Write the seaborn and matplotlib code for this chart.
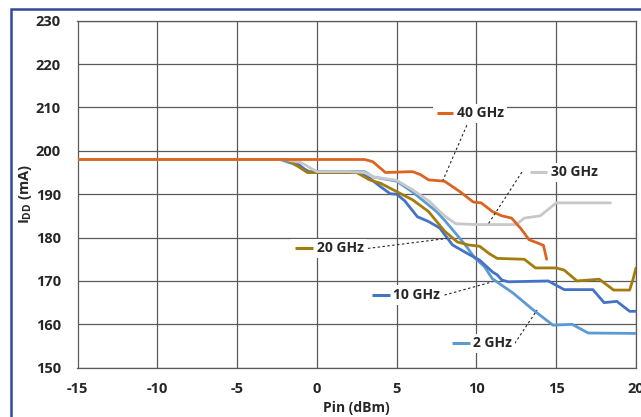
import matplotlib
matplotlib.use("Agg")
import matplotlib.pyplot as plt
import seaborn as sns
import pandas as pd
from matplotlib.patches import Rectangle

# ---- data ----
pin_2 = [-15, -2.3, -1.5, -0.5, 3.0, 3.5, 5.0, 6.0, 7.0, 7.5, 8.0, 8.6, 9.3, 9.9, 10.5, 11.0, 12.3, 13.5, 14.2, 14.8, 16.0, 17.0, 20.0]
idd_2 = [198, 198, 197, 195.3, 195.2, 194, 193, 190.5, 187.5, 186, 184, 181.4, 178.3, 175.3, 173.3, 170.5, 167.2, 163.5, 161.5, 159.8, 160, 158, 157.9]

pin_10 = [-15, -2.0, -1.2, -0.5, 2.5, 3.2, 4.0, 4.6, 5.0, 5.5, 6.3, 7.0, 7.7, 8.5, 9.4, 10.2, 11.0, 11.3, 11.6, 12.0, 14.5, 15.5, 17.3, 18.0, 18.8, 19.6, 20.0]
idd_10 = [198, 198, 197, 195, 195, 194, 191.7, 190.1, 190, 188.5, 184.8, 183.7, 182.2, 178.3, 176.4, 174.8, 172.1, 171.4, 170.2, 169.8, 170, 168, 168, 165, 165.3, 163, 163]

pin_20 = [-15, -2.0, -1.5, -0.6, 2.5, 3.3, 4.0, 5.0, 6.0, 7.0, 8.0, 8.8, 9.5, 10.2, 10.8, 11.3, 13.0, 13.7, 15.0, 15.5, 16.3, 17.7, 18.6, 19.6, 19.8, 20.0]
idd_20 = [198, 198, 197.2, 195, 195, 193.3, 192.5, 190.6, 188.7, 186, 181.5, 179, 178.3, 178, 176.3, 175.2, 175, 173, 173, 172.5, 170, 170.4, 167.9, 167.9, 170.2, 173]

pin_30 = [-15, -2.0, -1.0, 0.0, 2.0, 3.0, 3.5, 5.0, 6.0, 7.0, 8.0, 8.7, 10.0, 12.5, 13.0, 14.0, 14.5, 15.0, 18.4]
idd_30 = [198, 198, 197.3, 195.2, 195.2, 195, 194, 193.2, 191, 188.5, 185, 183.2, 183, 183, 184.5, 185, 186.5, 188, 188]

pin_40 = [-15, 3.0, 3.5, 4.3, 6.0, 6.5, 7.0, 8.0, 9.0, 9.8, 10.3, 11.0, 11.6, 12.2, 12.8, 13.3, 13.8, 14.2, 14.4]
idd_40 = [198, 198, 197.5, 195, 195.2, 194.5, 193.3, 193, 190.5, 188.2, 188, 186, 185, 184.5, 182, 179.5, 178.8, 178.2, 175]

series_names = ["2 GHz", "10 GHz", "20 GHz", "30 GHz", "40 GHz"]
series_colors = ["#5B9BD5", "#4472C4", "#A37D0B", "#C8C8C8", "#DC6420"]
x_ticks = [-15, -10, -5, 0, 5, 10, 15, 20]
y_ticks = [150, 160, 170, 180, 190, 200, 210, 220, 230]

frames = []
for name, xs, ys in zip(series_names,
                        [pin_2, pin_10, pin_20, pin_30, pin_40],
                        [idd_2, idd_10, idd_20, idd_30, idd_40]):
    frames.append(pd.DataFrame({"Pin": xs, "IDD": ys, "series": name}))
df = pd.concat(frames, ignore_index=True)

sns.set_theme(style="white")
FONT = "Open Sans"
plt.rcParams["font.family"] = [FONT, "DejaVu Sans"]
plt.rcParams["font.weight"] = "bold"
plt.rcParams["mathtext.fontset"] = "custom"
plt.rcParams["mathtext.rm"] = FONT + ":bold"
plt.rcParams["mathtext.bf"] = FONT + ":bold"
plt.rcParams["mathtext.it"] = FONT + ":bold"

fig = plt.figure(figsize=(6.41, 4.17), dpi=100)
ax = fig.add_axes([77.5 / 641, (417 - 367.7) / 417, (636 - 77.5) / 641, 347 / 417])

sns.lineplot(data=df, x="Pin", y="IDD", hue="series", hue_order=series_names,
             palette=series_colors, estimator=None, sort=False, lw=2.0,
             legend=False, ax=ax, zorder=3)

ax.set_xlim(-15, 20)
ax.set_ylim(150, 230)
ax.set_xticks(x_ticks)
ax.set_yticks(y_ticks)
ax.set_xticklabels([str(t) for t in x_ticks])
ax.set_yticklabels([str(t) for t in y_ticks])
ax.grid(True, color="#5a5a5a", lw=0.9)
ax.set_axisbelow(True)
for s in ax.spines.values():
    s.set_color("#5a5a5a")
    s.set_linewidth(0.9)
ax.tick_params(length=0, labelsize=10.5, colors="#262626")
ax.tick_params(axis="y", pad=12)
ax.tick_params(axis="x", pad=10.5)
for lab in ax.get_xticklabels() + ax.get_yticklabels():
    lab.set_fontweight("bold")

ax.set_xlabel("Pin (dBm)", fontsize=10, fontweight="bold", color="#262626")
ax.set_ylabel(r"$\mathbf{I_{DD}}$ (mA)", fontsize=10.5, fontweight="bold", color="#262626")
ax.xaxis.set_label_coords(0.5, -0.095)
ax.yaxis.set_label_coords(-0.078, 0.5)

# ---- in-plot labels with leader lines ----
labels = [
    # name, seg start, seg end, text x, y, leader from, leader to
    ("40 GHz", 7.53, 8.53, 8.78, 208.65, (9.4, 205.9), (7.9, 193.2)),
    ("30 GHz", 13.35, 14.4, 14.7, 195.05, (12.85, 195.1), (10.7, 182.9)),
    ("20 GHz", -1.37, -0.25, 0.0, 177.5, (3.2, 177.5), (8.15, 179.8)),
    ("10 GHz", 3.45, 4.58, 4.8, 166.75, (8.0, 166.75), (11.0, 169.8)),
    ("2 GHz", 8.47, 9.6, 9.8, 155.6, (12.4, 155.6), (13.8, 163.3)),
]
color_of = dict(zip(series_names, series_colors))
fig.canvas.draw()
renderer = fig.canvas.get_renderer()
for name, xs, xe, xt, yv, p0, p1 in labels:
    t = ax.text(xt, yv, name, fontsize=10, fontweight="bold", color="#262626",
                ha="left", va="center", zorder=6)
    bb = t.get_window_extent(renderer).transformed(ax.transData.inverted())
    ax.add_patch(Rectangle((xs - 0.25, bb.y0 - 0.6), bb.x1 + 0.2 - (xs - 0.25),
                           bb.y1 - bb.y0 + 1.2, facecolor="white",
                           edgecolor="none", zorder=5))
    ax.plot([xs, xe], [yv, yv], color=color_of[name], lw=2.2, zorder=6,
            solid_capstyle="butt")
    ax.plot([p0[0], p1[0]], [p0[1], p1[1]], color="#262626", lw=0.8,
            ls=(0, (2.2, 2.2)), zorder=4)

# ---- outer frame ----
fig.patches.append(Rectangle((11 / 641, -0.05), 1.2, (417 - 9) / 417 + 0.05,
                             transform=fig.transFigure, fill=False,
                             edgecolor="#2F4A9B", lw=1.8, zorder=10))

fig.savefig("out.png", dpi=100)
